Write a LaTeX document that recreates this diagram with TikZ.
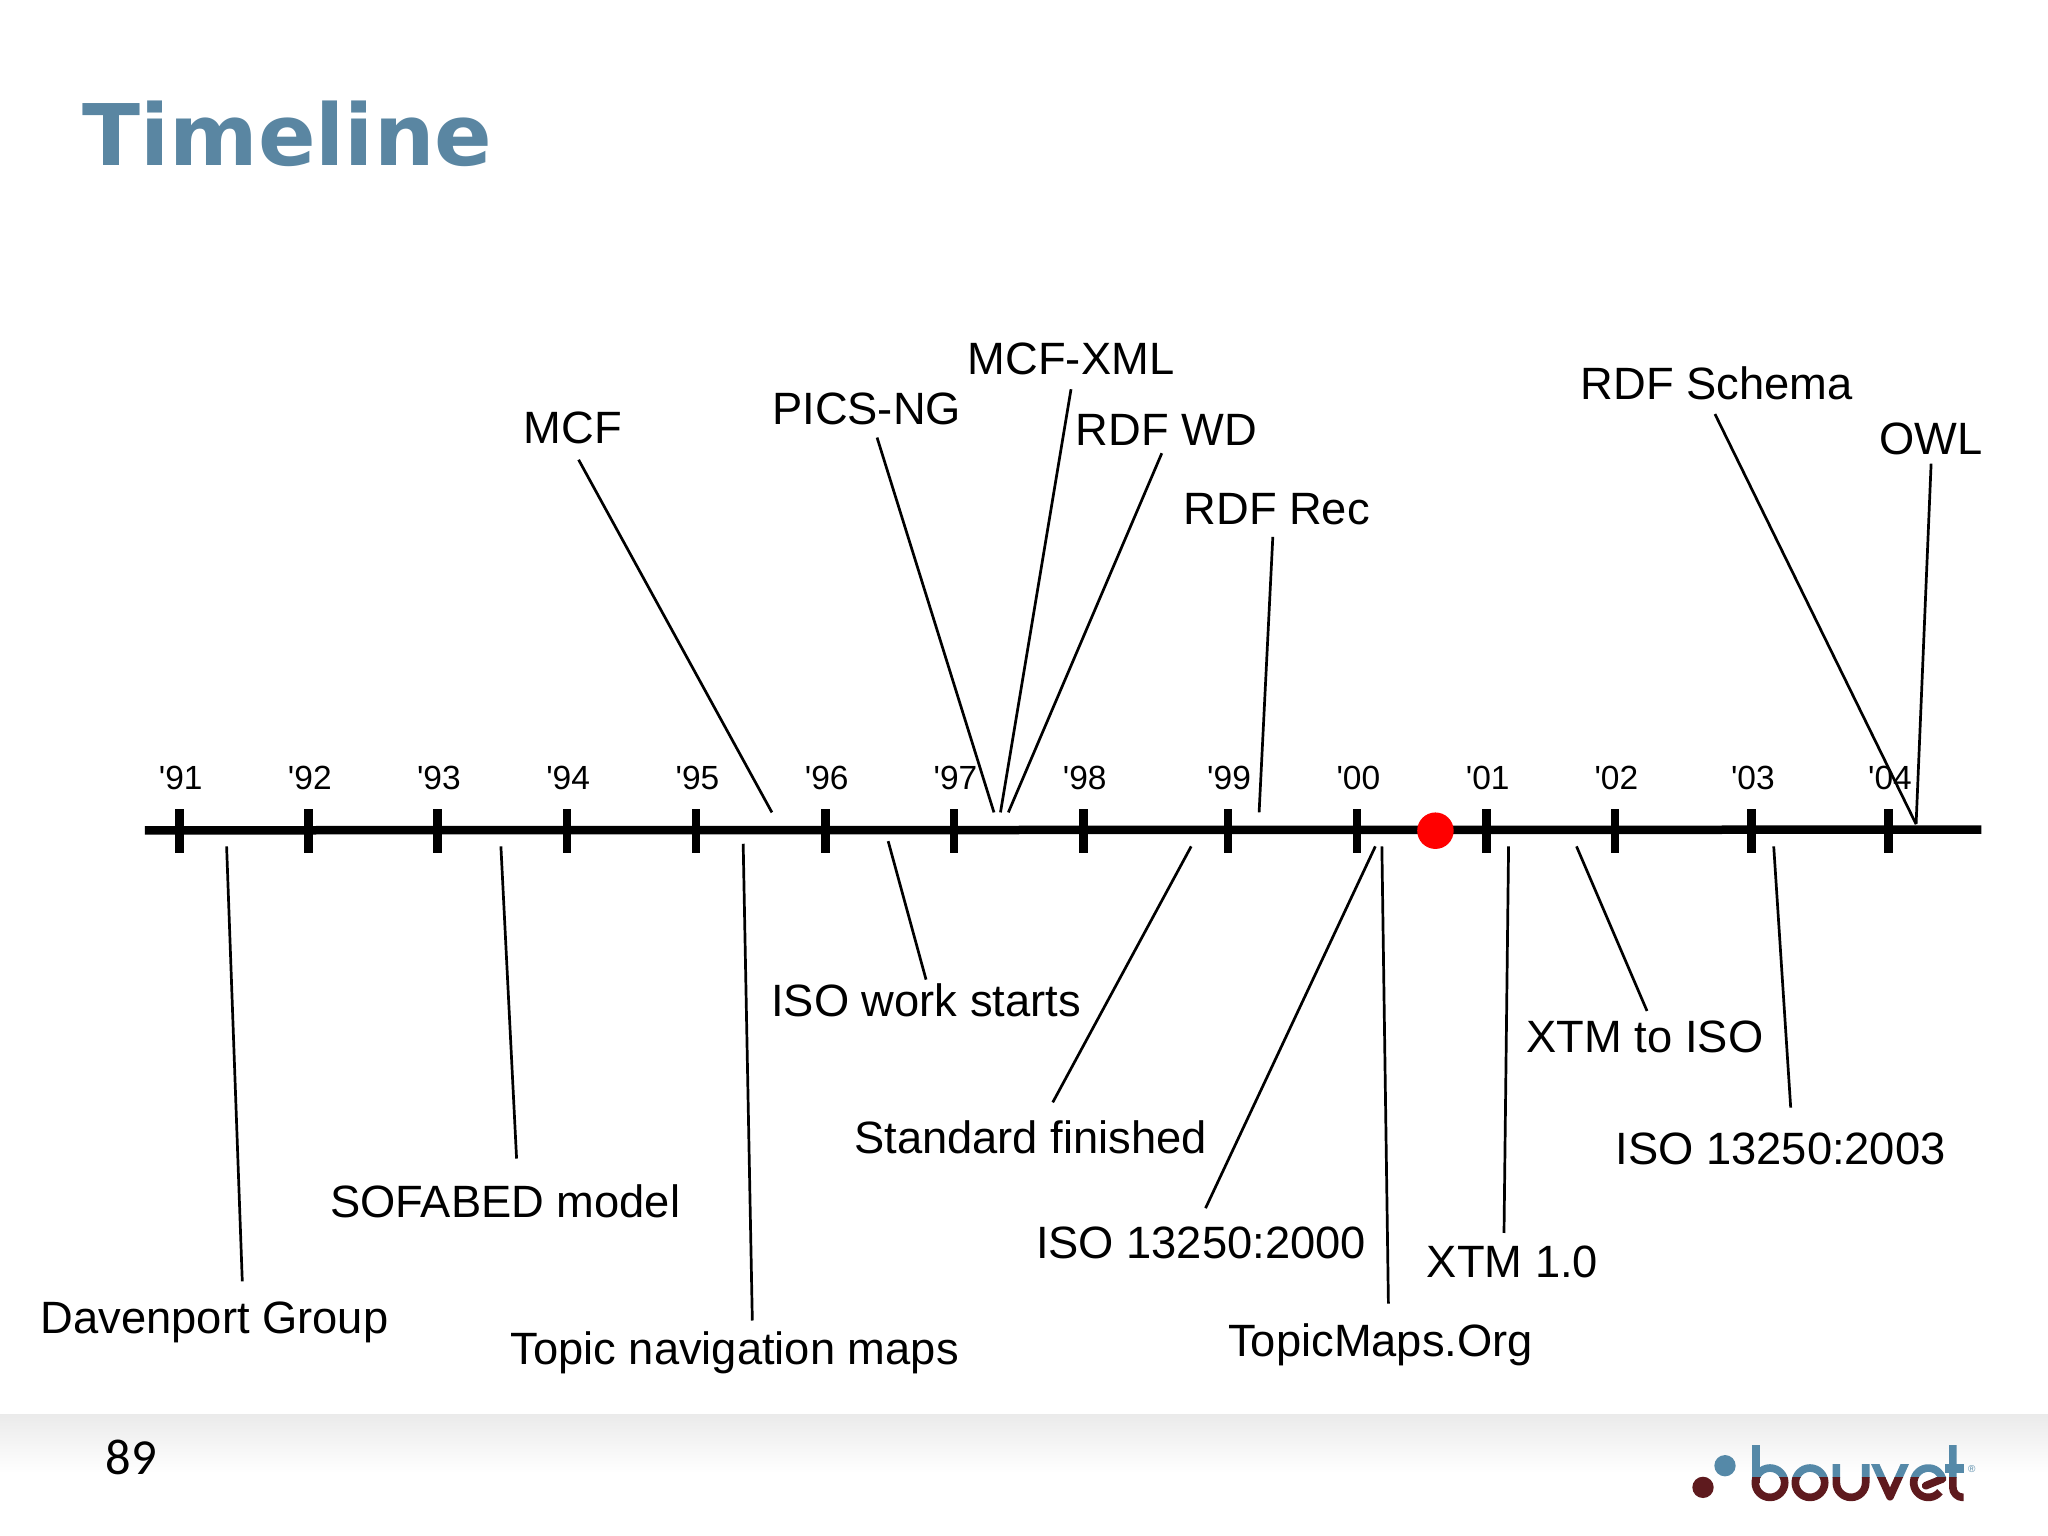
\documentclass[tikz,border=0pt]{standalone}
\usepackage{fontspec}
\setmainfont{Liberation Sans}
\newfontfamily\yrfont{Liberation Sans}
\newfontfamily\titlefont{DejaVu Sans}
\newfontfamily\numfont{Carlito}
\definecolor{titleblue}{HTML}{5A86A2}
\definecolor{logoblue}{HTML}{5589A8}
\definecolor{logored}{HTML}{5E1A1E}
\newcommand{\logostrokes}[1]{%
  \begin{scope}[draw=#1,line width=7.67pt,line cap=butt,line join=round]
    \draw (467.5,135) -- (467.5,248);
    \draw (510,248) circle (44);
    \draw (630,248) circle (44);
    \draw (709,192) -- (709,248) arc[start angle=180,end angle=0,radius=44] -- (797,192);
    \begin{scope}
      \clip (800,192) rectangle (940,310);
      \draw (818,175) -- (870,290) -- (922,175);
    \end{scope}
    \draw (1019.7,275.1) arc[start angle=38,end angle=345,radius=44];
    \draw[line cap=round] (1027.5,236.6) -- (977,257);
    \draw (1058.5,135) -- (1058.5,262) arc[start angle=180,end angle=90,radius=30] -- (1091,292);
    \draw[line width=9pt] (1035,204) -- (1091,204);
  \end{scope}}
\tikzset{
  lbl/.style={font=\fontsize{45.3}{50}\selectfont,anchor=base,inner sep=0pt,yshift=-15.5pt,text=black},
  yr/.style={font=\yrfont\fontsize{33.5}{36}\selectfont,inner sep=0pt,anchor=base,yshift=-12pt,text=black},
  lead/.style={draw=black,line width=2.7pt},
  tick/.style={draw=black,line width=8.5pt},
}
\begin{document}
\begin{tikzpicture}[x=1.30612pt,y=-1.30612pt]
\useasboundingbox (0,0) rectangle (1568,1176);
\fill[white] (0,0) rectangle (1568,1176);
\shade[top color=black!8,bottom color=white] (0,1083) rectangle (1568,1128);
\node[font=\titlefont\bfseries\fontsize{85}{90}\selectfont,text=titleblue,anchor=base west,inner sep=0pt] (title) at (63,127) {Timeline};
\node[font=\numfont\fontsize{50.5}{54}\selectfont,anchor=base,inner sep=0pt] (pageno) at (100.5,1129) {89};
% axis
\coordinate (axL) at (111,635.7);
\coordinate (axR) at (1517,635.2);
\draw[black,line width=8.5pt] (axL) -- (axR);
\foreach \nm/\x/\lab in {a/137.4/'91,b/236.2/'92,c/335/'93,d/434/'94,e/533/'95,f/632/'96,g/730.5/'97,h/829.5/'98,i/940/'99,j/1039/'00,k/1138/'01,l/1236.5/'02,m/1341/'03,n/1446/'04}{
  \coordinate (t\nm a) at (\x,619.5);
  \coordinate (t\nm b) at (\x,653);
  \draw[tick] (t\nm a) -- (t\nm b);
  \node[yr] (y\nm) at (\x+1,595.5) {\lab};
}
\node[circle,fill=red,inner sep=0pt,minimum size=36.5pt] (now) at (1099,636) {};
% labels
\node[lbl] (mcf) at (438.5,328) {MCF};
\node[lbl] (pics) at (663.5,313) {PICS-NG};
\node[lbl] (mcfxml) at (820,275) {MCF-XML};
\node[lbl] (rdfwd) at (893,329) {RDF WD};
\node[lbl] (rdfrec) at (977.5,390) {RDF Rec};
\node[lbl] (rdfs) at (1314.5,294) {RDF Schema};
\node[lbl] (owl) at (1478.5,336) {OWL};
\node[lbl] (dav) at (164.3,1009) {Davenport Group};
\node[lbl] (sofa) at (386.8,920) {SOFABED model};
\node[lbl] (tnm) at (562.5,1033) {Topic navigation maps};
\node[lbl] (isow) at (709,766) {ISO work starts};
\node[lbl] (stdf) at (789,871) {Standard finished};
\node[lbl] (isoa) at (919.5,952) {ISO 13250:2000};
\node[lbl] (tmo) at (1057,1027) {TopicMaps.Org};
\node[lbl] (xtm) at (1158,966) {XTM 1.0};
\node[lbl] (xtmi) at (1259.5,794) {XTM to ISO};
\node[lbl] (isob) at (1363.3,880) {ISO 13250:2003};
% connectors
\foreach \nm/\xa/\ya/\xb/\yb in {
 mcf/443/352/591/622, pics/671.5/335/761/622, mcfxml/820/298/766/622,
 rdfwd/889.5/347/772/622, rdfrec/974.5/411/964/622, rdfs/1313/317/1467/631,
 owl/1478.5/355/1467/631, dav/173.5/648/185.5/981, sofa/383.5/648/395.5/887,
 tnm/569/646/576/1011, isow/680/644/709/750, stdf/912/648/806/844,
 isoa/1053/648/923/925, tmo/1058/648/1063/998, xtm/1155/648/1151.5/944,
 xtmi/1207/648/1261/774, isob/1358/648/1371/848}{
  \coordinate (\nm-s) at (\xa,\ya);
  \coordinate (\nm-e) at (\xb,\yb);
  \draw[lead] (\nm-s) -- (\nm-e);
}
% logo
\begin{scope}[shift={(1225.0,1071.9)},x=1pt/3,y=-1pt/3]
  \begin{scope}
    \clip (200,100) rectangle (1200,231);
    \logostrokes{logoblue}
  \end{scope}
  \begin{scope}
    \clip (200,231) rectangle (1200,330);
    \logostrokes{logored}
  \end{scope}
  \fill[logoblue] (375,197) circle (32);
  \fill[logored] (309,262) circle (32);
  \node[font=\fontsize{10}{11}\selectfont,text=logoblue,inner sep=0pt] (reg) at (1115,206) {®};
\end{scope}
\end{tikzpicture}
\end{document}
